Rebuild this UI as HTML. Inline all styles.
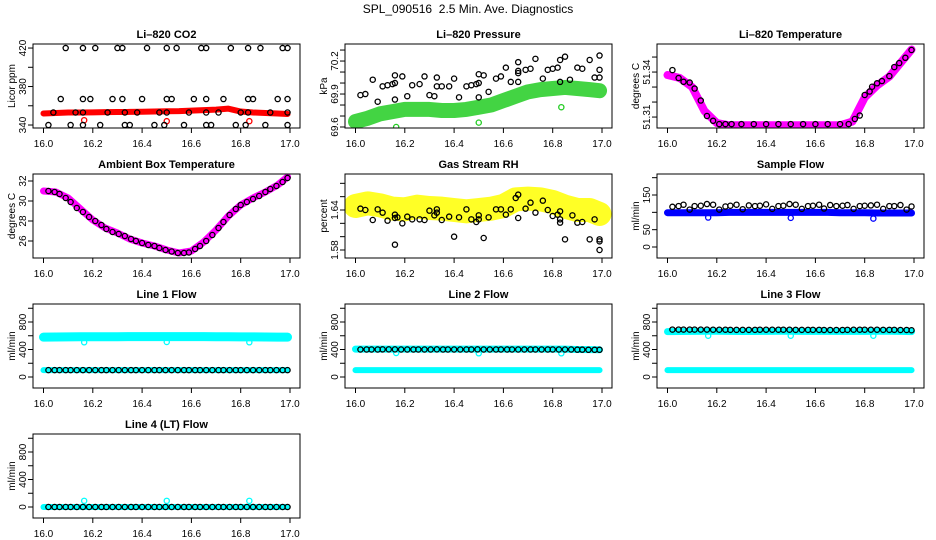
<!DOCTYPE html>
<html><head><meta charset="utf-8"><style>
body{margin:0;background:#fff;}
svg{display:block;font-family:"Liberation Sans",Arial,sans-serif;}
</style></head><body>
<svg id="c" width="936" height="540" viewBox="0 0 936 540">
<text x="468" y="13" text-anchor="middle" font-size="12" style="white-space:pre">SPL_090516  2.5 Min. Ave. Diagnostics</text>
</svg>
<script>
// ---- shared times ----
const blackT = [16.02,16.045,16.065,16.09,16.11,16.135,16.16,16.185,16.21,16.235,16.255,16.28,16.305,16.33,16.355,16.375,16.4,16.425,16.45,16.47,16.495,16.52,16.545,16.57,16.59,16.615,16.635,16.66,16.685,16.71,16.73,16.755,16.78,16.8,16.825,16.85,16.875,16.9,16.92,16.945,16.97,16.99];
const bandT = [16.0,16.05,16.1,16.15,16.2,16.25,16.3,16.35,16.4,16.45,16.5,16.55,16.6,16.65,16.7,16.75,16.8,16.85,16.9,16.95,16.99];
const xTicks = [16.0,16.2,16.4,16.6,16.8,17.0];
const xTickLabels = ["16.0","16.2","16.4","16.6","16.8","17.0"];
const outT = [16.165,16.5,16.835];

// CO2
const co2X = [16.09,16.16,16.21,16.3,16.32,16.42,16.5,16.54,16.64,16.66,16.76,16.83,16.88,16.97,16.99, 16.07,16.16,16.19,16.28,16.32,16.4,16.5,16.52,16.61,16.66,16.73,16.83,16.85,16.95,16.99, 16.04,16.13,16.16,16.26,16.33,16.38,16.47,16.5,16.59,16.66,16.71,16.8,16.83,16.92,16.99, 16.02,16.11,16.16,16.23,16.33,16.35,16.45,16.49,16.57,16.66,16.68,16.78,16.82,16.9,16.99];
const co2Y = [420,420,420,420,420,420,420,420,420,420,420,420,420,420,420, 367,367,367,367,367,367,367,367,367,367,367,367,367,367,367, 353,353,353,353,353,353,353,353,353,353,353,353,353,353,353, 340,340,340,340,340,340,340,340,340,340,340,340,340,340,340];
const co2Band = [352,352.5,353,353,353.2,353.4,353.5,353.6,353.8,354,354.3,354.5,355,355.5,356,357,354,353,352.5,352,351.5];
const co2Out = [345,344,344];

// Pressure
const presX = [16.02,16.04,16.07,16.09,16.11,16.13,16.15,16.16,16.16,16.16,16.19,16.21,16.23,16.26,16.28,16.3,16.32,16.33,16.33,16.35,16.38,16.4,16.42,16.45,16.47,16.49,16.5,16.5,16.5,16.52,16.54,16.57,16.59,16.61,16.63,16.66,16.66,16.66,16.66,16.69,16.71,16.73,16.76,16.78,16.8,16.82,16.83,16.83,16.85,16.87,16.9,16.92,16.95,16.97,16.99,16.99,16.99];
const presY = [69.89,69.90,70.03,69.83,69.97,69.98,69.99,70.0,70.07,69.85,70.06,69.88,69.98,69.99,70.06,69.89,69.88,69.97,70.05,69.97,69.97,70.04,69.87,69.97,69.98,69.99,70.0,70.08,69.87,70.07,69.92,70.04,70.06,70.14,70.01,70.01,70.09,70.11,70.19,70.12,70.13,70.22,70.04,70.12,70.13,70.14,70.21,70.01,70.24,70.03,70.14,70.13,70.21,70.05,70.05,70.12,70.25];
const presBand = [69.65,69.68,69.72,69.74,69.76,69.76,69.76,69.75,69.75,69.76,69.78,69.80,69.84,69.88,69.92,69.94,69.95,69.96,69.95,69.94,69.93];
const presOut = [69.60,69.64,69.78];

// Li-820 temperature
const tempX = [16.02,16.045,16.065,16.09,16.11,16.135,16.16,16.185,16.21,16.235,16.26,16.3,16.35,16.4,16.45,16.5,16.55,16.6,16.65,16.7,16.735,16.76,16.78,16.8,16.82,16.83,16.85,16.87,16.9,16.92,16.94,16.965,16.99];
const tempY = [51.3413,51.336,51.3335,51.333,51.329,51.321,51.3107,51.3075,51.3053,51.3053,51.3053,51.3053,51.3053,51.3053,51.3053,51.3053,51.3053,51.3053,51.3053,51.3053,51.3053,51.3087,51.311,51.3247,51.327,51.3302,51.3325,51.334,51.3373,51.3433,51.346,51.3495,51.3547];
const tempBand = [51.338,51.336,51.330,51.314,51.306,51.3045,51.3045,51.3045,51.3045,51.3045,51.3045,51.3045,51.3045,51.3045,51.3045,51.307,51.323,51.331,51.337,51.347,51.355];

// Ambient box temperature
const ambBand = [31.0,30.9,30.3,29.2,28.1,27.3,26.8,26.2,25.8,25.5,25.1,24.8,25.0,25.9,27.1,28.5,29.6,30.3,30.9,31.6,32.4];
const ambY = [31.0,30.9,30.7,30.3,29.9,29.3,28.9,28.4,28.0,27.6,27.2,26.9,26.7,26.5,26.2,26.0,25.8,25.6,25.5,25.3,25.1,24.95,24.8,24.8,24.85,25.2,25.5,26.0,26.6,27.3,27.9,28.6,29.2,29.6,29.9,30.2,30.5,30.9,31.2,31.5,31.9,32.3];

// Gas stream RH
const rhX = [16.02,16.04,16.07,16.09,16.11,16.13,16.16,16.16,16.16,16.17,16.19,16.21,16.23,16.26,16.28,16.3,16.32,16.33,16.33,16.35,16.38,16.4,16.42,16.45,16.47,16.49,16.5,16.5,16.52,16.54,16.57,16.59,16.61,16.63,16.65,16.66,16.66,16.69,16.71,16.73,16.76,16.78,16.8,16.82,16.83,16.83,16.83,16.85,16.88,16.9,16.92,16.95,16.97,16.99,16.99,16.99];
const rhY = [1.642,1.640,1.625,1.641,1.636,1.624,1.633,1.628,1.588,1.629,1.620,1.630,1.626,1.626,1.625,1.639,1.632,1.641,1.636,1.625,1.630,1.600,1.629,1.641,1.626,1.622,1.626,1.632,1.598,1.629,1.641,1.641,1.633,1.641,1.658,1.663,1.628,1.642,1.651,1.636,1.654,1.640,1.631,1.633,1.638,1.626,1.621,1.596,1.632,1.621,1.622,1.596,1.626,1.596,1.593,1.580];
const rhBand = [1.646,1.650,1.647,1.642,1.641,1.645,1.643,1.642,1.640,1.638,1.640,1.642,1.646,1.656,1.657,1.656,1.652,1.645,1.640,1.640,1.634];

// Sample flow
const sfBlack = [116,118,122,108,118,119,124,122,108,117,119,122,109,120,118,119,123,110,118,119,124,122,110,118,119,122,111,121,118,119,121,110,118,119,120,122,110,118,118,121,108,117];
const sfBand = [99,99,99,99,99,100,100,100,100,100,100,100,100,100,99,99,99,98,98,98,98];
const sfOut = [85,84,82];

// Line flows
const l1Black = [100,100,100,100,100,100,100,100,100,100,100,100,100,100,100,100,100,100,100,100,100,100,100,100,100,100,100,100,100,100,100,100,100,100,100,100,100,100,100,100,100,100];
const l1High = [580,582,583,585,585,586,586,587,587,587,588,588,587,587,586,585,584,583,582,581,580];
const l1Low = [100,100,100,100,100,100,100,100,100,100,100,100,100,100,100,100,100,100,100,100,100];
const l1Out = [505,510,505];

const l2Black = [400,400,400,400,402,402,402,400,400,400,400,400,400,402,400,400,400,400,400,400,402,400,400,400,400,400,400,400,400,400,400,400,400,400,400,400,400,398,398,396,396,396];
const l2High = [405,405,405,405,405,405,405,405,405,405,405,405,405,405,405,405,405,405,400,398,396];
const l2Low = [100,100,100,100,100,100,100,100,100,100,100,100,100,100,100,100,100,100,100,100,100];
const l2Out = [350,345,345];

const l3Black = [690,690,690,690,690,690,690,688,688,688,686,686,686,686,686,688,688,688,688,688,688,686,686,686,686,686,684,684,684,684,686,688,688,688,688,688,686,686,686,684,684,680];
const l3High = [660,662,664,665,665,664,662,662,664,665,665,664,664,664,663,663,664,665,665,664,660];
const l3Low = [100,100,100,100,100,100,100,100,100,100,100,100,100,100,100,100,100,100,100,100,100];
const l3Out = [600,600,600];

const l4Black = [0,0,0,0,0,0,0,0,0,0,0,0,0,0,0,0,0,0,0,0,0,0,0,0,0,0,0,0,0,0,0,0,0,0,0,0,0,0,0,0,0,0];
const l4Band = [0,0,0,0,0,0,0,0,0,0,0,0,0,0,0,0,0,0,0,0,0];
const l4Out = [90,90,90];

const flowTicks = [0,200,400,600,800,1000];
const flowLabels = ["0","","400","","800",""];

const NS = "http://www.w3.org/2000/svg";
const svg = document.getElementById('c');
function mk(tag, attrs, parent){ const e = document.createElementNS(NS, tag); for (const k in attrs) e.setAttribute(k, attrs[k]); (parent||svg).appendChild(e); return e; }

function panel(p){
  const L = p.col*312+33, R = p.col*312+300, T = 44 + p.row*130, B = T+84;
  const g = mk('g', {});
  
  
  const sx = v => p.col*312+43.5 + (v-16)*246.5;
  const sy = v => B - (v-p.lo)/(p.hi-p.lo)*84;
  const t = mk('text', {x:(L+R)/2, y:T-6, 'text-anchor':'middle', 'font-size':11, 'font-weight':'bold'}, g);
  t.textContent = p.title;
  
  
  const yl = mk('text', {x:0, y:0, 'text-anchor':'middle', 'font-size':10, transform:`translate(${p.col*312+15},${(T+B)/2}) rotate(-90)`}, g);
  yl.textContent = p.ylab;
  
  
  const ya = mk('g', {}, g);
  
  
  p.yt.forEach((v,i)=>{
    const y = sy(v);
    mk('line', {x1:L-5, x2:L, y1:y, y2:y, stroke:'#000', 'stroke-width':1}, ya);
    if (p.yl[i]) { const tx = mk('text', {x:0,y:0,'text-anchor':'middle','font-size':10, transform:`translate(${L-7},${y}) rotate(-90)`}, ya); tx.textContent = p.yl[i]; }
  });
  const xa = mk('g', {}, g);
  
  
  xTicks.forEach((v,i)=>{
    const x = sx(v);
    mk('line', {x1:x, x2:x, y1:B, y2:B+5, stroke:'#000'}, xa);
    const tx = mk('text', {x:x, y:B+19, 'text-anchor':'middle', 'font-size':10}, xa); tx.textContent = xTickLabels[i];
  });
  const cid = 'clip'+p.name;
  const cp = mk('clipPath', {id:cid}, g); mk('rect', {x:L, y:T, width:R-L, height:B-T}, cp);
  const plot = mk('g', {'clip-path':`url(#${cid})`}, g);
  p.series.forEach(s=>{
    const sg = mk('g', {}, plot);
    
    
    if (s.type==='band') {
      const pts = s.x.map((xv,i)=>sx(xv)+','+sy(s.y[i])).join(' ');
      mk('polyline', {points:pts, fill:'none', stroke:s.color, 'stroke-width':s.w, 'stroke-linejoin':'round', 'stroke-linecap':'round', opacity:s.op||1}, sg);
    } else {
      s.x.forEach((xv,i)=>{
        mk('circle', {cx:sx(xv), cy:sy(s.y[i]), r:s.r||2.6, fill:'none', stroke:s.color, 'stroke-width':s.sw||1.3}, sg);
      });
    }
  });
  mk('rect', {x:L, y:T, width:R-L, height:B-T, fill:'none', stroke:'#000', 'stroke-width':1}, g);
}

panel({name:'co2', title:'Li\u2013820 CO2', ylab:'Licor ppm', col:0,row:0, lo:336.9, hi:424.2, yt:[340,360,380,400,420], yl:['340','','380','','420'],
  series:[{name:'co2-band',type:'band',x:bandT,y:co2Band,color:'#f00',w:6},{name:'co2-outliers',type:'pts',x:outT,y:co2Out,color:'#f00'},{name:'co2-black-points',type:'pts',x:co2X,y:co2Y,color:'#000'}]});
panel({name:'pressure', title:'Li\u2013820 Pressure', ylab:'kPa', col:1,row:0, lo:69.591, hi:70.355, yt:[69.6,69.7,69.8,69.9,70.0,70.1,70.2,70.3], yl:['69.6','','','69.9','','','70.2',''],
  series:[{name:'pressure-band',type:'band',x:bandT,y:presBand,color:'#2c2',w:15,op:0.85},{name:'pressure-outliers',type:'pts',x:outT,y:presOut,color:'#2c2'},{name:'pressure-black-points',type:'pts',x:presX,y:presY,color:'#000'}]});
panel({name:'li820-temp', title:'Li\u2013820 Temperature', ylab:'degrees C', col:2,row:0, lo:51.3027, hi:51.3587, yt:[51.31,51.32,51.33,51.34,51.35], yl:['51.31','','','51.34',''],
  series:[{name:'temp-band',type:'band',x:bandT,y:tempBand,color:'#f0f',w:8},{name:'temp-black-points',type:'pts',x:tempX,y:tempY,color:'#000'}]});
panel({name:'ambient', title:'Ambient Box Temperature', ylab:'degrees C', col:0,row:1, lo:24.3, hi:32.7, yt:[26,28,30,32], yl:['26','28','30','32'],
  series:[{name:'ambient-band',type:'band',x:bandT,y:ambBand,color:'#f0f',w:7},{name:'ambient-black-points',type:'pts',x:blackT,y:ambY,color:'#000'}]});
panel({name:'rh', title:'Gas Stream RH', ylab:'percent', col:1,row:1, lo:1.568, hi:1.694, yt:[1.58,1.60,1.62,1.64,1.66,1.68], yl:['1.58','','','1.64','',''],
  series:[{name:'rh-band',type:'band',x:bandT,y:rhBand,color:'#ff0',w:24,op:0.85},{name:'rh-black-points',type:'pts',x:rhX,y:rhY,color:'#000'}]});
panel({name:'sample-flow', title:'Sample Flow', ylab:'ml/min', col:2,row:1, lo:-31.7, hi:210.6, yt:[0,50,100,150,200], yl:['0','50','','150',''],
  series:[{name:'sample-band',type:'band',x:bandT,y:sfBand,color:'#00f',w:7},{name:'sample-outliers',type:'pts',x:outT,y:sfOut,color:'#00f'},{name:'sample-black-points',type:'pts',x:blackT,y:sfBlack,color:'#000'}]});
panel({name:'line1', title:'Line 1 Flow', ylab:'ml/min', col:0,row:2, lo:-160, hi:1062, yt:flowTicks, yl:flowLabels,
  series:[{name:'line1-high-band',type:'band',x:bandT,y:l1High,color:'#0ff',w:9},{name:'line1-low-band',type:'band',x:bandT,y:l1Low,color:'#0ff',w:6},{name:'line1-outliers',type:'pts',x:outT,y:l1Out,color:'#0ff'},{name:'line1-black-points',type:'pts',x:blackT,y:l1Black,color:'#000'}]});
panel({name:'line2', title:'Line 2 Flow', ylab:'ml/min', col:1,row:2, lo:-160, hi:1062, yt:flowTicks, yl:flowLabels,
  series:[{name:'line2-high-band',type:'band',x:bandT,y:l2High,color:'#0ff',w:7},{name:'line2-low-band',type:'band',x:bandT,y:l2Low,color:'#0ff',w:6},{name:'line2-outliers',type:'pts',x:outT,y:l2Out,color:'#0ff'},{name:'line2-black-points',type:'pts',x:blackT,y:l2Black,color:'#000'}]});
panel({name:'line3', title:'Line 3 Flow', ylab:'ml/min', col:2,row:2, lo:-160, hi:1062, yt:flowTicks, yl:flowLabels,
  series:[{name:'line3-high-band',type:'band',x:bandT,y:l3High,color:'#0ff',w:7},{name:'line3-low-band',type:'band',x:bandT,y:l3Low,color:'#0ff',w:6},{name:'line3-outliers',type:'pts',x:outT,y:l3Out,color:'#0ff'},{name:'line3-black-points',type:'pts',x:blackT,y:l3Black,color:'#000'}]});
panel({name:'line4', title:'Line 4 (LT) Flow', ylab:'ml/min', col:0,row:3, lo:-160, hi:1062, yt:flowTicks, yl:flowLabels,
  series:[{name:'line4-band',type:'band',x:bandT,y:l4Band,color:'#0ff',w:6},{name:'line4-outliers',type:'pts',x:outT,y:l4Out,color:'#0ff'},{name:'line4-black-points',type:'pts',x:blackT,y:l4Black,color:'#000'}]});
</script>
</body></html>
